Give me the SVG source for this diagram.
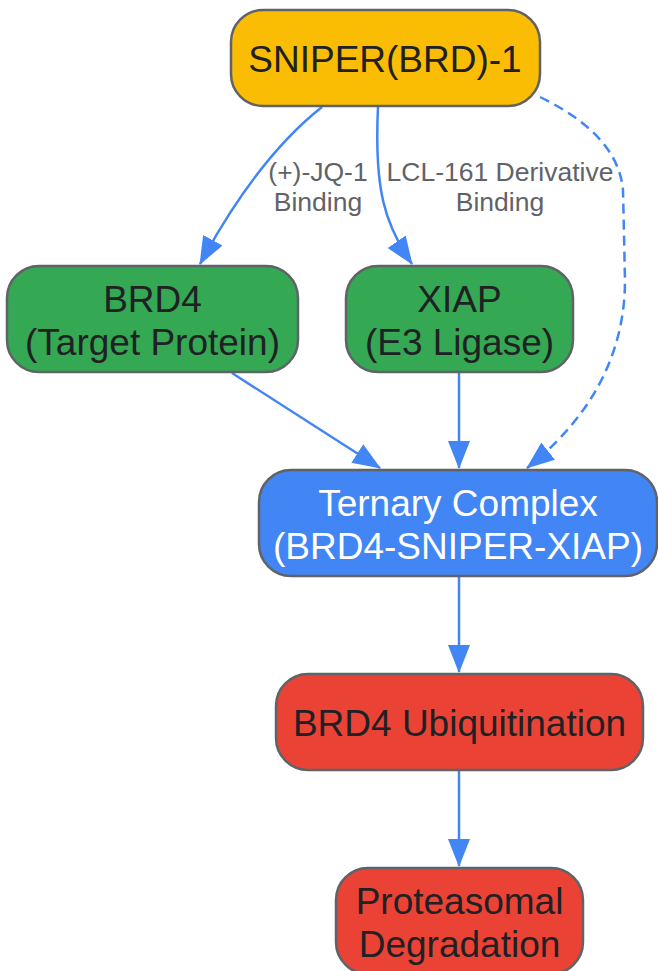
<svg xmlns="http://www.w3.org/2000/svg" width="658" height="971" viewBox="0 0 658 971">
<style>
.node rect{stroke:#5f6368;stroke-width:2.5}
.ntext{font-family:"Liberation Sans",Arial,sans-serif;font-size:37px;fill:#202124;text-anchor:middle}
.wtext{fill:#ffffff}
.elabel{font-family:"Liberation Sans",Arial,sans-serif;font-size:26.5px;fill:#5f6368;text-anchor:middle}
.edge{fill:none;stroke:#4285F4;stroke-width:2.5}
.dashed{stroke-dasharray:10,6}
</style>
<defs>
<marker id="arrow" markerUnits="userSpaceOnUse" markerWidth="28" markerHeight="22" viewBox="0 0 28 22" refX="27" refY="11" orient="auto">
<path d="M0,0 L28,11 L0,22 z" fill="#4285F4"/>
</marker>
</defs>
<rect width="658" height="971" fill="#ffffff"/>
<g id="connectors">
<path class="edge" d="M322,107 C280,140 240,190 200,264" marker-end="url(#arrow)"/>
<path class="edge" d="M378,107 C374,190 385,225 412,264" marker-end="url(#arrow)"/>
<path class="edge dashed" d="M540,97 Q618,135 623,190 L625,280 C625,370 575,430 527,468" marker-end="url(#arrow)"/>
<path class="edge" d="M232,373 L380,468" marker-end="url(#arrow)"/>
<path class="edge" d="M459,373 L459,468" marker-end="url(#arrow)"/>
<path class="edge" d="M459,577 L459,672" marker-end="url(#arrow)"/>
<path class="edge" d="M459,771 L459,866" marker-end="url(#arrow)"/>
<text class="elabel" x="318" y="181">(+)-JQ-1</text>
<text class="elabel" x="318" y="211">Binding</text>
<text class="elabel" x="500" y="181">LCL-161 Derivative</text>
<text class="elabel" x="500" y="211">Binding</text>
</g>
<g id="sniper" class="node">
<rect x="231" y="10" width="309" height="96" rx="32" fill="#FBBC04"/>
<text class="ntext" x="385" y="72">SNIPER(BRD)-1</text>
</g>
<g id="brd4" class="node">
<rect x="7" y="266" width="291" height="106" rx="32" fill="#34A853"/>
<text class="ntext" x="152.5" y="312">BRD4</text>
<text class="ntext" x="152.5" y="355">(Target Protein)</text>
</g>
<g id="xiap" class="node">
<rect x="346" y="266" width="227" height="106" rx="32" fill="#34A853"/>
<text class="ntext" x="459.5" y="312">XIAP</text>
<text class="ntext" x="459.5" y="355">(E3 Ligase)</text>
</g>
<g id="ternary" class="node">
<rect x="259" y="470" width="398" height="106" rx="32" fill="#4285F4"/>
<text class="ntext wtext" x="458" y="516">Ternary Complex</text>
<text class="ntext wtext" x="458" y="559">(BRD4-SNIPER-XIAP)</text>
</g>
<g id="ubiquitination" class="node">
<rect x="276" y="674" width="367" height="96" rx="32" fill="#EA4335"/>
<text class="ntext" x="459.5" y="736">BRD4 Ubiquitination</text>
</g>
<g id="degradation" class="node">
<rect x="336" y="868" width="247" height="106" rx="32" fill="#EA4335"/>
<text class="ntext" x="459.5" y="914">Proteasomal</text>
<text class="ntext" x="459.5" y="957">Degradation</text>
</g>
</svg>
